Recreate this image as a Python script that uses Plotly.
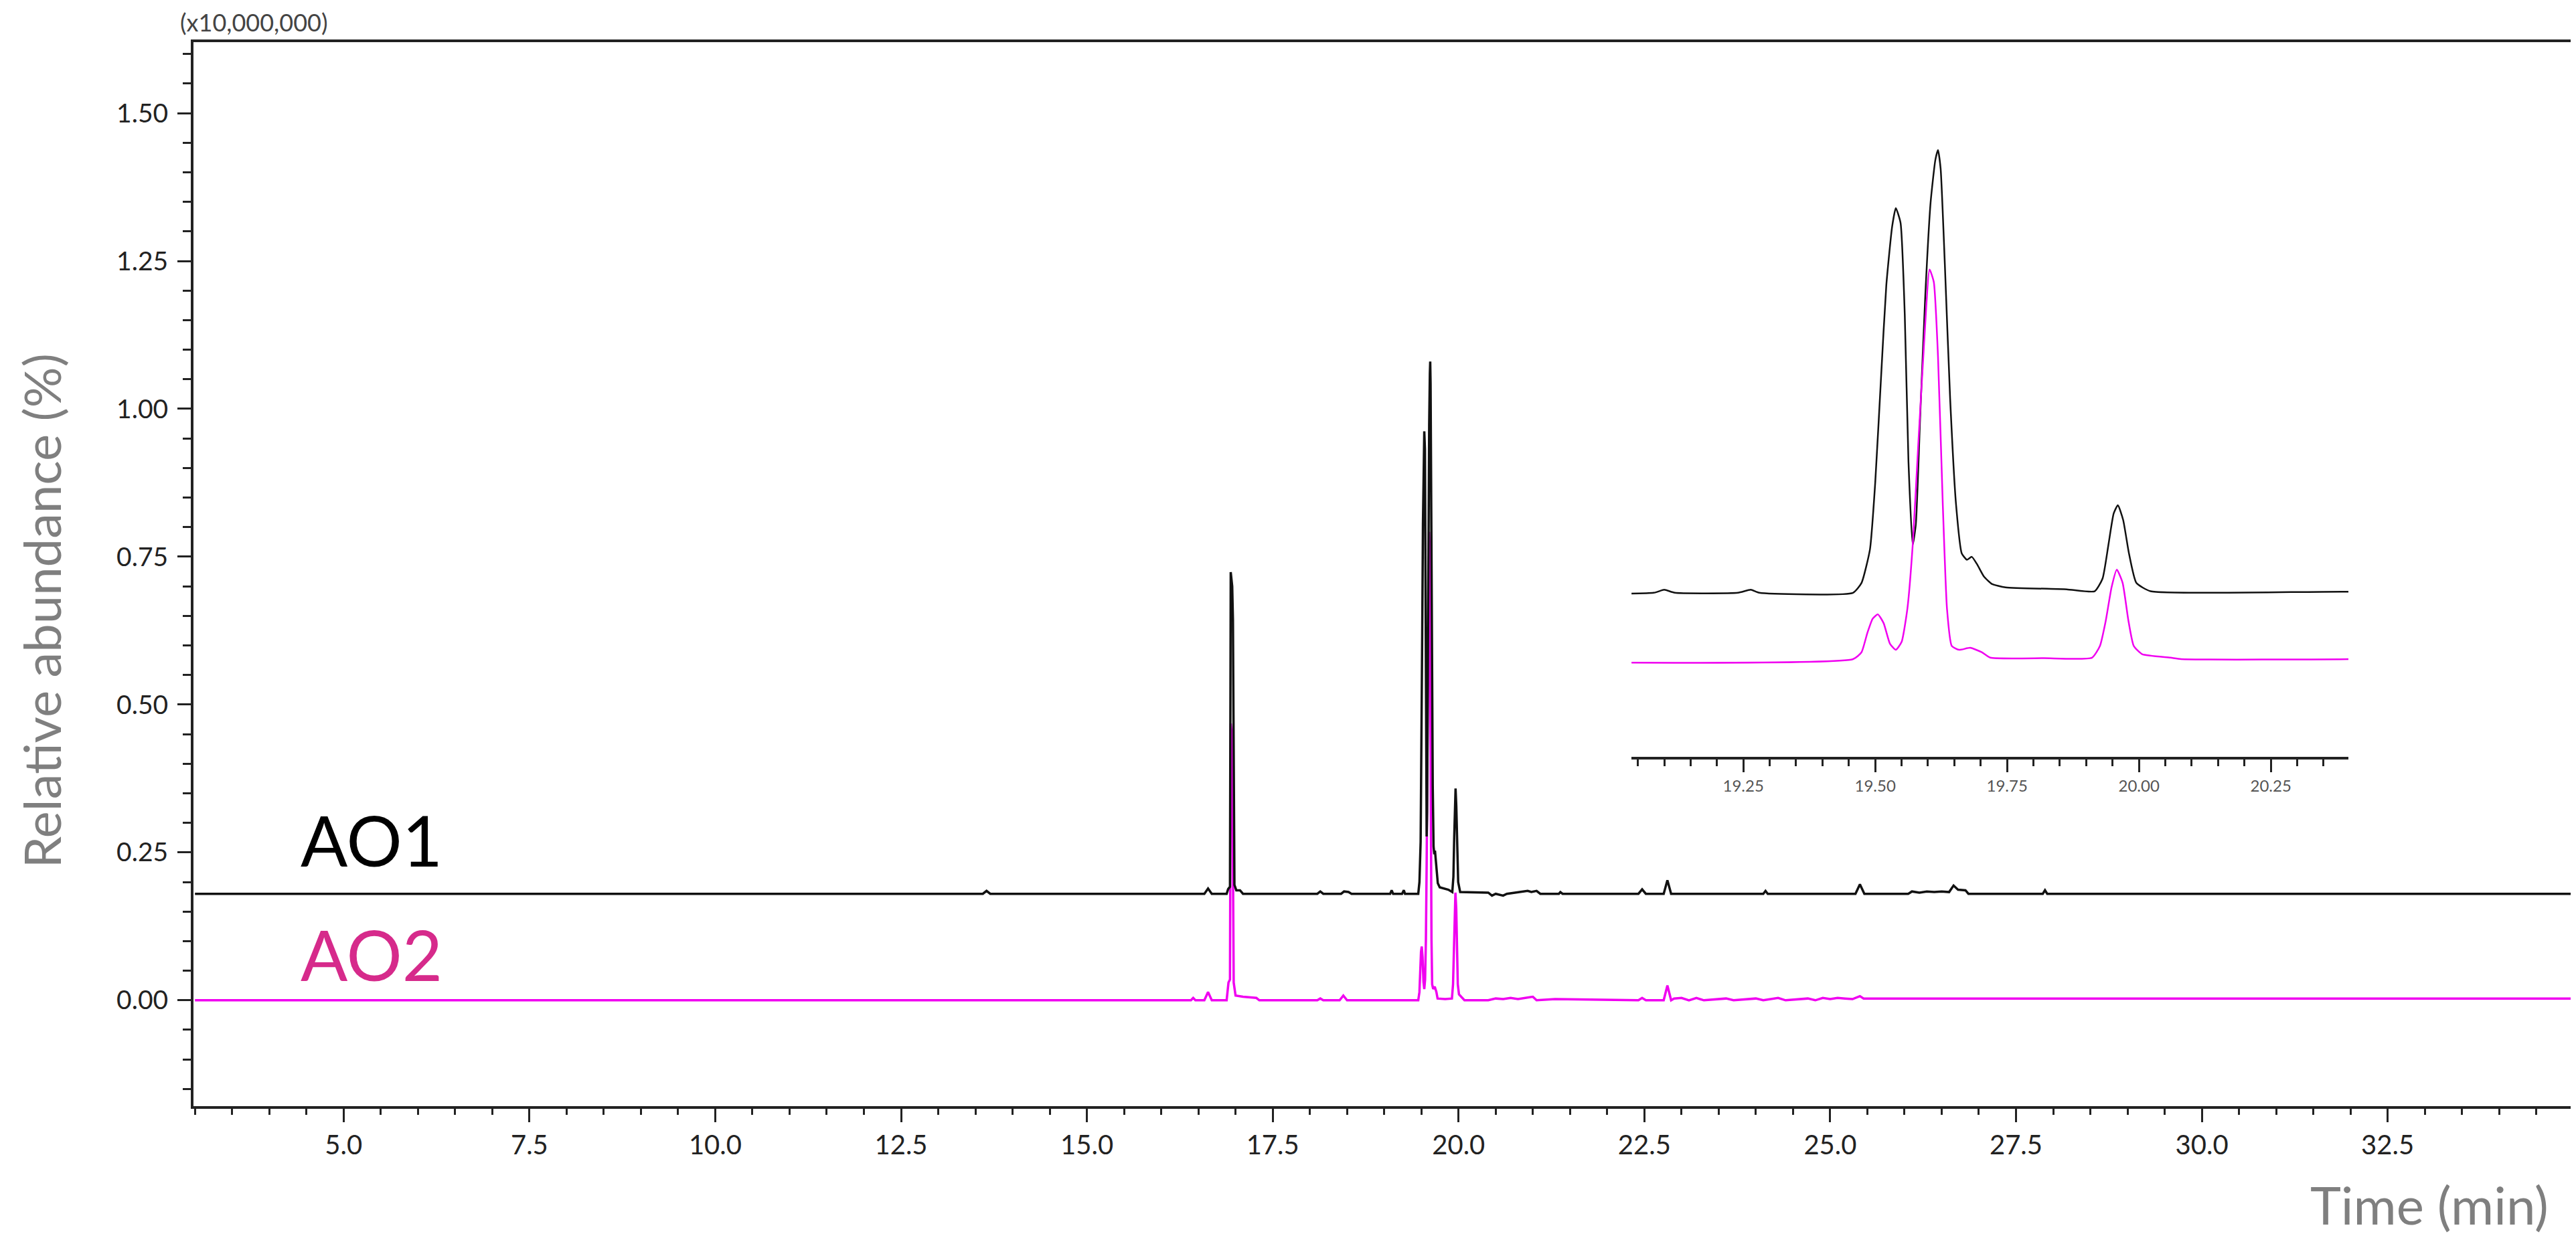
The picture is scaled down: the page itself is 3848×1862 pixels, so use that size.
import plotly.graph_objects as go

# ---------------- data (x10,000,000 counts) ----------------
# AO1 trace: retention time (min) and intensity above its own baseline
ao1_time = [3.00, 13.60, 13.65, 13.70, 16.58, 16.63, 16.68, 16.88, 16.90, 16.925,
            16.935, 16.955, 16.965, 16.985, 17.01, 17.06, 17.10, 18.10, 18.14, 18.18,
            18.42, 18.46, 18.52, 18.56, 19.08, 19.10, 19.12, 19.24, 19.264, 19.28,
            19.458, 19.474, 19.490, 19.500, 19.511, 19.521, 19.532, 19.539, 19.548, 19.556,
            19.563, 19.571, 19.577, 19.585, 19.595, 19.605, 19.614, 19.619, 19.624, 19.632,
            19.642, 19.653, 19.664, 19.674, 19.683, 19.693, 19.706, 19.721, 19.747, 19.863,
            19.916, 19.931, 19.942, 19.952, 19.960, 19.970, 19.981, 19.995, 20.022, 20.40,
            20.45, 20.50, 20.60, 20.65, 20.93, 20.98, 21.05, 21.10, 21.35, 21.37,
            21.40, 22.42, 22.47, 22.52, 22.76, 22.81, 22.86, 24.10, 24.13, 24.16,
            25.34, 25.40, 25.46, 26.05, 26.10, 26.20, 26.30, 26.40, 26.50, 26.60,
            26.66, 26.72, 26.82, 26.86, 27.86, 27.89, 27.92, 35.07]
ao1_int = [0, 0, 0.005, 0, 0, 0.009, 0, 0, 0.008, 0.012,
           0.544, 0.52, 0.463, 0.015, 0.006, 0.006, 0, 0, 0.004, 0,
           0, 0.004, 0.003, 0, 0, 0.006, 0, 0, 0.006, 0,
           0, 0.020, 0.088, 0.224, 0.437, 0.625, 0.744, 0.782, 0.752, 0.565,
           0.267, 0.097, 0.139, 0.352, 0.607, 0.794, 0.880, 0.900, 0.862, 0.667,
           0.395, 0.182, 0.080, 0.067, 0.073, 0.058, 0.033, 0.018, 0.011, 0.007,
           0.003, 0.029, 0.097, 0.161, 0.178, 0.148, 0.080, 0.020, 0.003, 0.002,
           -0.003, 0, -0.003, 0, 0.005, 0.003, 0.005, 0, 0, 0.003,
           0, 0, 0.0075, 0, 0, 0.023, 0, 0, 0.005, 0,
           0, 0.016, 0, 0, 0.004, 0.002, 0.004, 0.003, 0.004, 0.003,
           0.014, 0.007, 0.006, 0, 0, 0.006, 0, 0]

# AO2 trace
ao2_time = [3.00, 16.40, 16.43, 16.46, 16.58, 16.63, 16.68, 16.88, 16.905, 16.925,
            16.935, 16.955, 16.975, 17.00, 17.10, 17.28, 17.32, 18.10, 18.14, 18.18,
            18.40, 18.45, 18.50, 19.458, 19.474, 19.485, 19.495, 19.505, 19.516, 19.528,
            19.539, 19.550, 19.561, 19.571, 19.582, 19.593, 19.603, 19.611, 19.619, 19.628,
            19.636, 19.645, 19.659, 19.680, 19.702, 19.718, 19.82, 19.911, 19.926, 19.937,
            19.948, 19.958, 19.969, 19.980, 19.990, 20.006, 20.06, 20.08, 20.40, 20.50,
            20.60, 20.70, 20.80, 21.00, 21.05, 21.30, 22.42, 22.47, 22.52, 22.76,
            22.81, 22.86, 22.90, 23.00, 23.10, 23.20, 23.30, 23.60, 23.70, 24.00,
            24.10, 24.30, 24.40, 24.70, 24.80, 24.90, 25.00, 25.10, 25.20, 25.30,
            25.40, 25.45, 35.07]
ao2_int = [0, 0, 0.004, 0, 0, 0.014, 0, 0, 0.03, 0.035,
           0.468, 0.44, 0.03, 0.008, 0.006, 0.004, 0, 0, 0.003, 0,
           0, 0.008, 0, 0, 0.014, 0.053, 0.082, 0.091, 0.073, 0.031,
           0.019, 0.035, 0.103, 0.231, 0.444, 0.649, 0.792, 0.767, 0.615, 0.317,
           0.103, 0.027, 0.019, 0.023, 0.014, 0.003, 0.002, 0.003, 0.027, 0.078,
           0.146, 0.182, 0.155, 0.078, 0.027, 0.010, 0.003, 0, 0, 0.003,
           0.002, 0.004, 0.002, 0.006, 0, 0.002, 0, 0.004, 0, 0,
           0.025, 0, 0.003, 0.004, 0, 0.004, 0, 0.003, 0, 0.003,
           0, 0.004, 0, 0.003, 0, 0.004, 0.002, 0.004, 0.003, 0.002,
           0.007, 0.003, 0.003]

# vertical offsets used for stacking the traces
main_offsets = {"AO1": 0.18, "AO2": 0.0}
inset_offsets = {"AO1": 0.135, "AO2": 0.0}

x_ticks = [5.0, 7.5, 10.0, 12.5, 15.0, 17.5, 20.0, 22.5, 25.0, 27.5, 30.0, 32.5]
y_ticks = [0.0, 0.25, 0.5, 0.75, 1.0, 1.25, 1.5]
inset_ticks = [19.25, 19.5, 19.75, 20.0, 20.25]

BLACK = "#111111"
MAGENTA = "#f000f0"
AXC = "#222222"
FONT = "Lato"

fig = go.Figure()

# main chromatograms
fig.add_trace(go.Scatter(x=ao2_time, y=[v + main_offsets["AO2"] for v in ao2_int],
                         mode="lines", line=dict(color=MAGENTA, width=3.5),
                         showlegend=False, hoverinfo="skip"))
fig.add_trace(go.Scatter(x=ao1_time, y=[v + main_offsets["AO1"] for v in ao1_int],
                         mode="lines", line=dict(color=BLACK, width=3.5),
                         showlegend=False, hoverinfo="skip"))

# inset (zoom of 19.0-20.4 min)
fig.add_trace(go.Scatter(x=ao1_time, y=[v + inset_offsets["AO1"] for v in ao1_int],
                         mode="lines", line=dict(color=BLACK, width=2.5, shape="spline", smoothing=0.5),
                         xaxis="x2", yaxis="y2", showlegend=False, hoverinfo="skip"))
fig.add_trace(go.Scatter(x=ao2_time, y=[v + inset_offsets["AO2"] for v in ao2_int],
                         mode="lines", line=dict(color=MAGENTA, width=2.5, shape="spline", smoothing=0.5),
                         xaxis="x2", yaxis="y2", showlegend=False, hoverinfo="skip"))

W, H = 3848, 1862
L, R, T, B = 281, 14, 55, 217

fig.update_layout(
    width=W, height=H,
    margin=dict(l=L, r=R, t=T, b=B, pad=0, autoexpand=False),
    paper_bgcolor="white", plot_bgcolor="rgba(0,0,0,0)",
    font=dict(family=FONT, color=AXC),
    xaxis=dict(range=[2.98, 34.98], tickmode="array", tickvals=x_ticks,
               ticktext=[f"{v:.1f}" for v in x_ticks], automargin=False,
               ticks="outside", ticklen=20, tickwidth=3, tickcolor=AXC,
               showline=True, linewidth=4, linecolor=AXC, mirror=True,
               showgrid=False, zeroline=False,
               tickfont=dict(family=FONT, size=40, color=AXC),
               minor=dict(tickmode="linear", tick0=0, dtick=0.5, ticks="outside",
                          ticklen=9, tickwidth=3, tickcolor=AXC, showgrid=False)),
    yaxis=dict(range=[-0.179, 1.62], tickmode="array", tickvals=y_ticks,
               ticktext=[f"{v:.2f}" for v in y_ticks], automargin=False,
               ticks="outside", ticklen=20, tickwidth=3, tickcolor=AXC,
               showline=True, linewidth=4, linecolor=AXC, mirror=True,
               showgrid=False, zeroline=False, ticklabelstandoff=6,
               tickfont=dict(family=FONT, size=39, color=AXC),
               minor=dict(tickmode="linear", tick0=0, dtick=0.05, ticks="outside",
                          ticklen=12, tickwidth=3, tickcolor=AXC, showgrid=False)),
    xaxis2=dict(domain=[0.6046, 0.906], anchor="y2", range=[19.038, 20.397],
                tickmode="array", tickvals=inset_ticks, automargin=False,
                ticktext=[f"{v:.2f}" for v in inset_ticks],
                ticks="outside", ticklen=19, tickwidth=2.5, tickcolor=AXC,
                showline=True, linewidth=4, linecolor=AXC, mirror=False,
                showgrid=False, zeroline=False,
                tickfont=dict(family=FONT, size=24, color="#555555"),
                minor=dict(tickmode="linear", tick0=0, dtick=0.05, ticks="outside",
                           ticklen=10, tickwidth=2.5, tickcolor=AXC, showgrid=False)),
    yaxis2=dict(domain=[0.3283, 0.9088], anchor="x2", range=[-0.1986, 1.057],
                visible=False, showgrid=False, zeroline=False, automargin=False),
)

annotations = [
    dict(text="(x10,000,000)", xref="paper", yref="paper", x=-0.0062, y=1.0189,
         xanchor="left", yanchor="middle", showarrow=False,
         font=dict(family=FONT, size=36, color="#444444")),
    dict(text="Relative abundance (%)", xref="paper", yref="paper", x=-0.0643, y=0.4654,
         xanchor="center", yanchor="middle", textangle=-90, showarrow=False,
         font=dict(family=FONT, size=76, color="#7f7f7f")),
    dict(text="Time (min)", xref="paper", yref="paper", x=0.9907, y=-0.0925,
         xanchor="right", yanchor="middle", showarrow=False,
         font=dict(family=FONT, size=78, color="#7f7f7f")),
    dict(text="AO1", xref="x", yref="y", x=5.38, y=0.272,
         xanchor="center", yanchor="middle", showarrow=False,
         font=dict(family=FONT, size=104, color="#000000")),
    dict(text="AO2", xref="x", yref="y", x=5.38, y=0.078,
         xanchor="center", yanchor="middle", showarrow=False,
         font=dict(family=FONT, size=104, color="#d62a8b")),
]
fig.update_layout(annotations=annotations)

fig.write_html("out.html")
